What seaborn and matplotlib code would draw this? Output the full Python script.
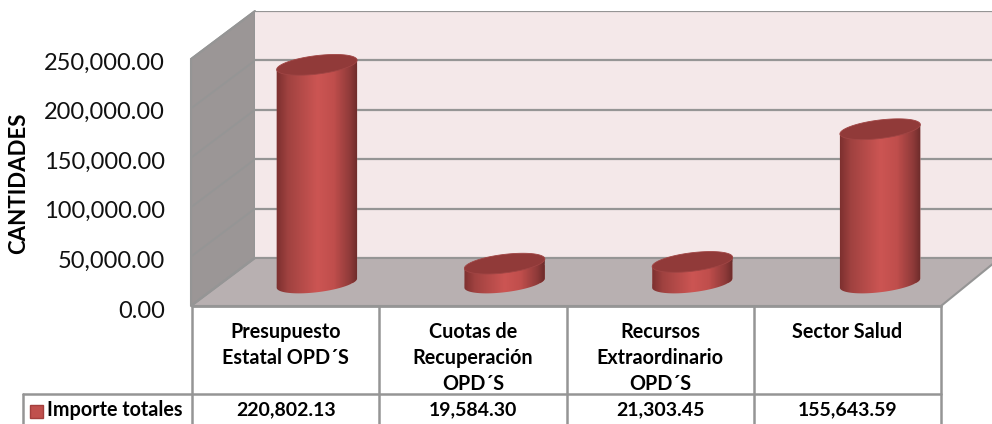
import numpy as np
import pandas as pd
import matplotlib
matplotlib.use('Agg')
import matplotlib.pyplot as plt
from matplotlib.colors import LinearSegmentedColormap
from matplotlib.patches import Polygon, Rectangle
import seaborn as sns

sns.set_theme(style="white")
plt.rcParams['font.family'] = ['Lato', 'DejaVu Sans']

# Datos del grafico
categorias = ['Presupuesto\nEstatal OPD´S', 'Cuotas de\nRecuperación\nOPD´S',
              'Recursos\nExtraordinario\nOPD´S', 'Sector Salud']
importes = [220802.13, 19584.30, 21303.45, 155643.59]
ticks_y = [0, 50000, 100000, 150000, 200000, 250000]
nombre_serie = 'Importe totales'
titulo_y = 'CANTIDADES'

GRIS = '#959595'
W, H = 992, 424
fig = plt.figure(figsize=(W / 100, H / 100), dpi=100, facecolor='white')


def caja(x0, y_top, x1, y_bot):
    # pixeles de la imagen -> fracciones de la figura
    return [x0 / W, 1 - y_bot / H, (x1 - x0) / W, (y_bot - y_top) / H]


# Capa base en pixeles: pared izquierda, piso y tabla
base = fig.add_axes([0, 0, 1, 1], zorder=0)
base.set_xlim(0, W)
base.set_ylim(H, 0)
base.axis('off')
base.add_patch(Polygon([(191, 59), (255, 11), (255, 258), (191, 306)], fc='#9b9696', ec=GRIS, lw=1.5))
base.add_patch(Polygon([(191, 306), (255, 258), (1000, 258), (941, 306)], fc='#b8b0b1', ec=GRIS, lw=1.5))

# Pared del fondo con su rejilla
pared = fig.add_axes(caja(255, 11, 1010, 258), zorder=1, facecolor='#f4e8e9')
pared.set_ylim(0, 250000)
pared.set_xticks([])
pared.set_yticks(ticks_y)
pared.tick_params(left=False, labelleft=False)
pared.grid(axis='y', color=GRIS, lw=1.6)
pared.set_axisbelow(True)
sns.despine(ax=pared, left=True, bottom=True, right=True, top=True)

# Diagonales de la rejilla sobre la pared izquierda
for t in ticks_y:
    y_px = 258 - t / 250000 * 247
    base.plot([255, 191], [y_px, y_px + 48], color=GRIS, lw=1.3, zorder=3)

# Cilindros: plano a media profundidad del piso (el eje baja 15 px mas para la base)
Y_MIN = -15200
ax = fig.add_axes(caja(223, 36, 974, 298), zorder=2)
ax.patch.set_alpha(0)
df = pd.DataFrame({'categoria': categorias, 'importe': importes})
sns.barplot(data=df, x='categoria', y='importe', color='#c0504d', width=0.426, ax=ax, saturation=1)
ax.set_xlim(-0.5, 3.5)
ax.set_ylim(Y_MIN, 250000)
ax.axis('off')

cmap = LinearSegmentedColormap.from_list('cil', [
    (0, '#7b2f2e'), (0.14, '#a04240'), (0.5, '#cc5553'), (0.7, '#c04e4c'),
    (0.9, '#8e3a39'), (1, '#682928')])
A, B, ANG = 40.5, 9.2, np.radians(7)
t = np.linspace(0, 2 * np.pi, 181)
ex = A * np.cos(t) * np.cos(ANG) - B * np.sin(t) * np.sin(ANG)
ey = A * np.cos(t) * np.sin(ANG) + B * np.sin(t) * np.cos(ANG)
izq, der = np.argmin(ex), np.argmax(ex)


def a_datos(i, valor, dx, dy):
    # desplazamiento en pixeles alrededor de un punto de datos
    p = ax.transData.transform((i, valor))
    return ax.transData.inverted().transform(np.column_stack([p[0] + dx, p[1] + dy]))


for i, (barra, valor) in enumerate(zip(ax.patches, importes)):
    arriba = a_datos(i, valor, ex, ey)
    abajo = a_datos(i, 0, ex, ey)
    # arco inferior de la base, de izquierda a derecha
    orden = np.arange(izq, der + 1) if izq < der else np.r_[izq:len(t), 0:der + 1]
    contorno = np.vstack([abajo[orden], arriba[der], arriba[izq]])
    forma = Polygon(contorno, transform=ax.transData, fc='none', ec='none')
    ax.add_patch(forma)
    barra.set_clip_path(forma)
    img = ax.imshow(np.linspace(0, 1, 120)[None, :], cmap=cmap, aspect='auto', zorder=3,
                    extent=[i - 0.22, i + 0.22, Y_MIN, valor + 20000])
    img.set_clip_path(forma)
    ax.add_patch(Polygon(arriba, fc='#913a39', ec='#a04544', lw=0.6, zorder=4))
ax.set_xlim(-0.5, 3.5)
ax.set_ylim(Y_MIN, 250000)

# Plano frontal: etiquetas del eje Y
frente = fig.add_axes(caja(192, 61, 943, 309), zorder=3)
frente.patch.set_alpha(0)
frente.set_ylim(0, 250000)
frente.set_xticks([])
frente.set_yticks(ticks_y)
frente.set_yticklabels([f'{v:,.2f}' for v in ticks_y], fontsize=17, color='#111111')
frente.tick_params(axis='y', left=False, pad=13.5)
sns.despine(ax=frente, left=True, bottom=True, right=True, top=True)
fig.text(19 / W, 1 - 183 / H, titulo_y, rotation=90, ha='center', va='center',
         fontsize=16, fontweight='bold', color='black')

# Tabla de datos
bordes = [192 + 187.25 * k for k in range(5)]
for x in bordes:
    base.plot([x, x], [306, 424], color=GRIS, lw=1.8, zorder=2)
base.plot([192, bordes[-1]], [306, 306], color=GRIS, lw=2, zorder=4)
base.plot([23, bordes[-1]], [394, 394], color=GRIS, lw=1.8, zorder=2)
base.plot([23, 23], [394, 424], color=GRIS, lw=1.8, zorder=2)
for k, (nombre, valor) in enumerate(zip(categorias, importes)):
    xc = (bordes[k] + bordes[k + 1]) / 2
    base.text(xc, 322, nombre, ha='center', va='top', fontsize=14.2, fontweight='bold',
              color='black', linespacing=1.36)
    base.text(xc, 410, f'{valor:,.2f}', ha='center', va='center', fontsize=14,
              fontweight='bold', color='black')
base.add_patch(Rectangle((30, 405), 13, 13, fc='#c0504d', ec='#a33f3d', lw=1))
base.text(47, 410, nombre_serie, ha='left', va='center', fontsize=14.2, fontweight='bold', color='black')

fig.savefig('out.png', dpi=100)
